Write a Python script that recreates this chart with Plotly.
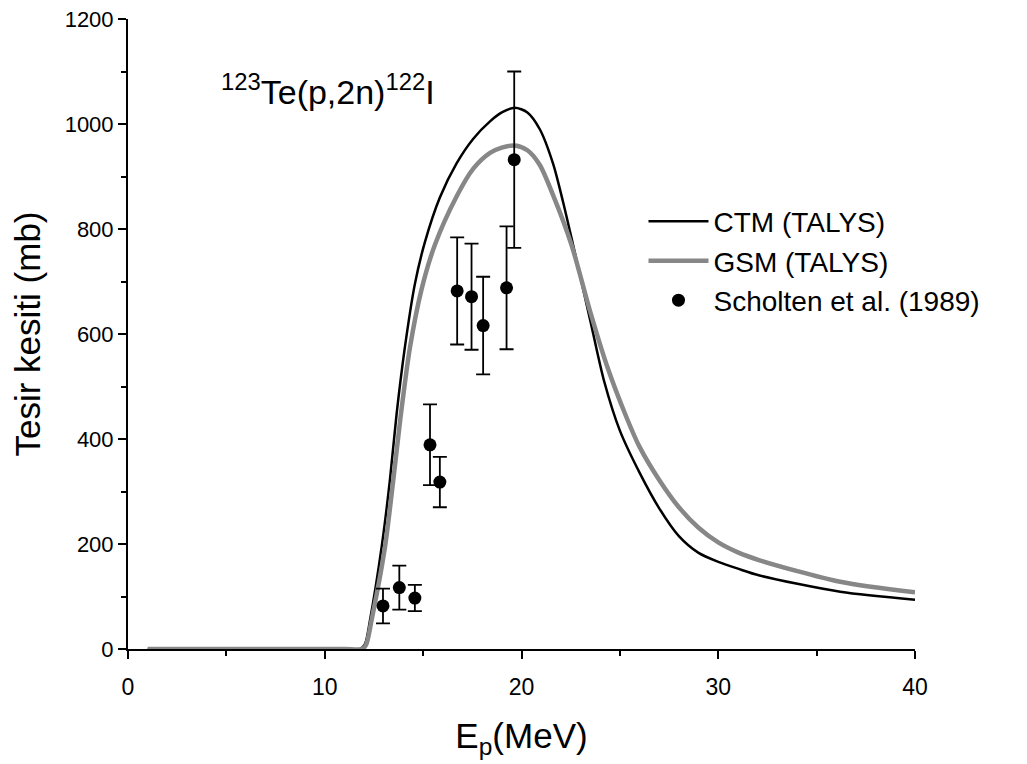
import plotly.graph_objects as go

# CTM (TALYS) curve
ctm_e = [1, 6, 11, 11.8, 12.05, 12.3, 12.89, 13.31, 13.65, 14.07, 14.58, 15.09, 15.85, 16.7,
         17.55, 18.4, 19.0, 19.66, 20.3, 20.93, 21.6, 22.11, 22.62, 23.5, 24.2, 25.0, 26.0,
         27.0, 28.0, 29.0, 30.0, 31.0, 32.1, 36.2, 40]
ctm_s = [0, 0, 0, 0, 10, 55, 194, 321, 447, 574, 695, 775, 860, 925,
         972, 1005, 1022, 1031, 1022, 990, 925, 852, 770, 625, 510, 416, 336,
         268, 215, 183, 166, 153, 140, 109, 94]

# GSM (TALYS) curve
gsm_e = [1, 6, 11, 11.9, 12.1, 12.38, 13.06, 13.48, 13.87, 14.33, 14.92, 15.6, 16.7, 17.55,
         18.4, 19.0, 19.66, 20.3, 20.93, 21.6, 22.54, 23.48, 24.32, 25.34, 26.0, 27.0, 28.0,
         29.0, 30.0, 31.0, 32.1, 36.2, 40]
gsm_s = [0, 0, 0, 0, 8, 55, 194, 321, 447, 574, 685, 770, 862, 915,
         945, 955, 959, 950, 922, 865, 770, 644, 542, 441, 385, 322, 270,
         231, 203, 184, 169, 128, 108]

# Scholten et al. (1989)
exp_e = [12.96, 13.79, 14.58, 15.35, 15.85, 16.73, 17.46, 18.05, 19.24, 19.63]
exp_s = [82, 117, 97, 389, 318, 682, 671, 616, 688, 932]
exp_err = [33, 42, 25, 77, 48, 102, 101, 93, 117, 168]

FONT = "Liberation Sans, Arial, sans-serif"

fig = go.Figure()
fig.add_trace(go.Scatter(x=ctm_e, y=ctm_s, mode="lines", name="CTM (TALYS)",
                         line=dict(color="black", width=2.5, shape="spline", smoothing=0.8)))
fig.add_trace(go.Scatter(x=gsm_e, y=gsm_s, mode="lines", name="GSM (TALYS)",
                         line=dict(color="#878787", width=4.5, shape="spline", smoothing=0.8)))
fig.add_trace(go.Scatter(x=exp_e, y=exp_s, mode="markers", name="Scholten et al. (1989)",
                         marker=dict(color="black", size=13, symbol="circle"),
                         error_y=dict(type="data", array=exp_err, visible=True,
                                      color="black", thickness=1.8, width=7)))

fig.add_annotation(x=4.65, y=1065, xref="x", yref="y", xanchor="left", yanchor="middle",
                   text="<sup>123</sup>Te(p,2n)<sup>122</sup>I", showarrow=False,
                   font=dict(family=FONT, size=34, color="black"))

fig.update_layout(
    width=1027, height=764,
    paper_bgcolor="white", plot_bgcolor="white",
    margin=dict(l=120, r=120, t=11, b=123),
    font=dict(family=FONT, color="black"),
    showlegend=True,
    legend=dict(x=0.655, y=0.718, xanchor="left", yanchor="top",
                font=dict(family=FONT, size=28, color="black"),
                bgcolor="rgba(0,0,0,0)", tracegroupgap=0, itemwidth=60),
    xaxis=dict(range=[0, 40], tickvals=[0, 10, 20, 30, 40], automargin=False,
               showline=True, linecolor="black", linewidth=2, showgrid=False, zeroline=False,
               layer="below traces",
               ticks="outside", ticklen=8, tickwidth=2, tickcolor="black",
               tickfont=dict(family=FONT, size=23), ticklabelstandoff=8,
               ticklabeloverflow="allow",
               minor=dict(ticks="outside", ticklen=5, tickwidth=2, tickcolor="black", dtick=5,
                          showgrid=False),
               title=dict(text="E<sub>p</sub>(MeV)", font=dict(family=FONT, size=35),
                          standoff=25)),
    yaxis=dict(range=[0, 1200], tickvals=[0, 200, 400, 600, 800, 1000, 1200], automargin=False,
               showline=True, linecolor="black", linewidth=2, showgrid=False, zeroline=False,
               ticks="outside", ticklen=8, tickwidth=2, tickcolor="black",
               tickfont=dict(family=FONT, size=22), ticklabeloverflow="allow",
               minor=dict(ticks="outside", ticklen=5, tickwidth=2, tickcolor="black", dtick=100,
                          showgrid=False),
               title=dict(text="Tesir kesiti (mb)", font=dict(family=FONT, size=35))),
)

fig.write_html("out.html")
